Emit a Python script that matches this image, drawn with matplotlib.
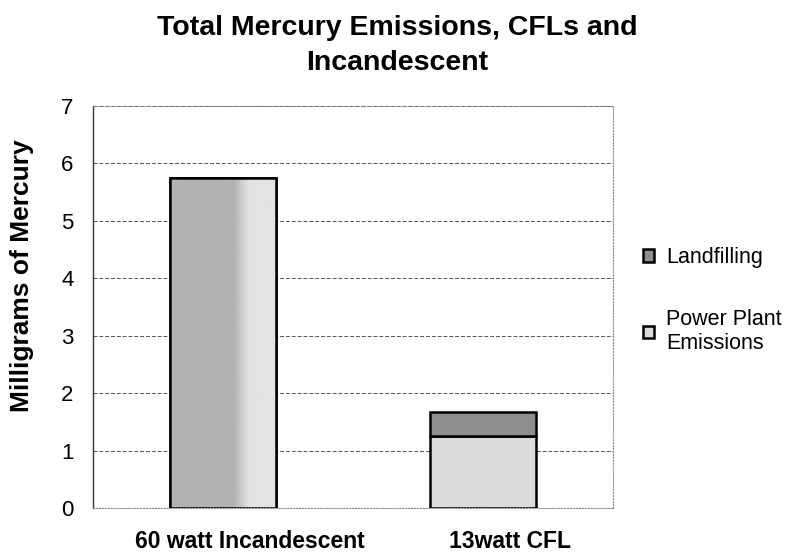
import matplotlib
matplotlib.use("Agg")
import matplotlib.pyplot as plt
import matplotlib.transforms as mtransforms
import numpy as np

categories = ["60 watt Incandescent", "13watt CFL"]
power_plant = [5.75, 1.25]
landfilling = [0.0, 0.42]
yticks = [0, 1, 2, 3, 4, 5, 6, 7]

plt.rcParams['font.family'] = ['Liberation Sans', 'DejaVu Sans']

fig = plt.figure(figsize=(7.98, 5.6), dpi=100)
ax = fig.add_axes([93/798, 1 - 508/560, (613 - 93)/798, (508 - 106)/560])

x = np.arange(len(categories))
w = 0.405
pp_bars = ax.bar(x, power_plant, width=w, color='#dcdcdc', edgecolor='black', linewidth=1.8,
                 label='Power Plant\nEmissions', zorder=3)
ax.bar(x, landfilling, width=w, bottom=power_plant, color='#8e8e8e', edgecolor='black',
       linewidth=1.8, label='Landfilling', zorder=3)

# shaded fill texture inside the first bar (scan-like gradient)
b = pp_bars[0]
x0, y0 = b.get_x(), b.get_y()
bw, bh = b.get_width(), b.get_height()
xx = np.linspace(0, 1, 200)
grad = np.clip((xx - 0.60) / 0.15, 0, 1)
img = np.tile(0.70 + 0.19 * grad, (10, 1))
im = ax.imshow(img, cmap='gray', vmin=0, vmax=1, extent=(x0, x0 + bw, y0, y0 + bh),
               aspect='auto', zorder=3.5, interpolation='bilinear')
im.set_clip_path(b)
ax.bar([x[0]], [power_plant[0]], width=w, facecolor='none', edgecolor='black',
       linewidth=1.8, zorder=4)

ax.set_xlim(-0.5, 1.5)
ax.set_ylim(0, 7)
ax.set_yticks(yticks)
ax.set_yticklabels([str(t) for t in yticks], fontsize=16)
ax.set_xticks(x)
ax.set_xticklabels(categories, fontsize=16.5, fontweight='bold')
ax.tick_params(axis='x', length=0, pad=16)
ax.tick_params(axis='y', length=0, pad=14)
offset = mtransforms.ScaledTranslation(27/100, 0, fig.dpi_scale_trans)
for lab in ax.get_xticklabels():
    lab.set_transform(lab.get_transform() + offset)
ax.yaxis.grid(True, color='#555555', linestyle=(0, (4, 2)), linewidth=0.7, zorder=0)
for s in ['top', 'right', 'bottom']:
    ax.spines[s].set_color('#888888')
    ax.spines[s].set_linestyle(':')
    ax.spines[s].set_linewidth(0.8)
ax.spines['left'].set_color('#333333')
ax.spines['left'].set_linewidth(1.0)

fig.text(22/798, 1 - 276/560, 'Milligrams of Mercury', rotation=90, fontsize=19,
         fontweight='bold', ha='center', va='center')

fig.text(397/798, 1 - 35/560, 'Total Mercury Emissions, CFLs and', fontsize=20.5,
         fontweight='bold', ha='center', va='baseline')
fig.text(397/798, 1 - 70/560, 'Incandescent', fontsize=20.5,
         fontweight='bold', ha='center', va='baseline')

handles, labels = ax.get_legend_handles_labels()
leg = fig.legend(handles[::-1], labels[::-1], loc='upper left',
                 bbox_to_anchor=(626/798, 1 - 230/560),
                 frameon=False, fontsize=15.5, handlelength=0.5, handleheight=0.5,
                 handletextpad=0.55, labelspacing=1.9, borderpad=0.3)

fig.savefig('out.png', dpi=100)
